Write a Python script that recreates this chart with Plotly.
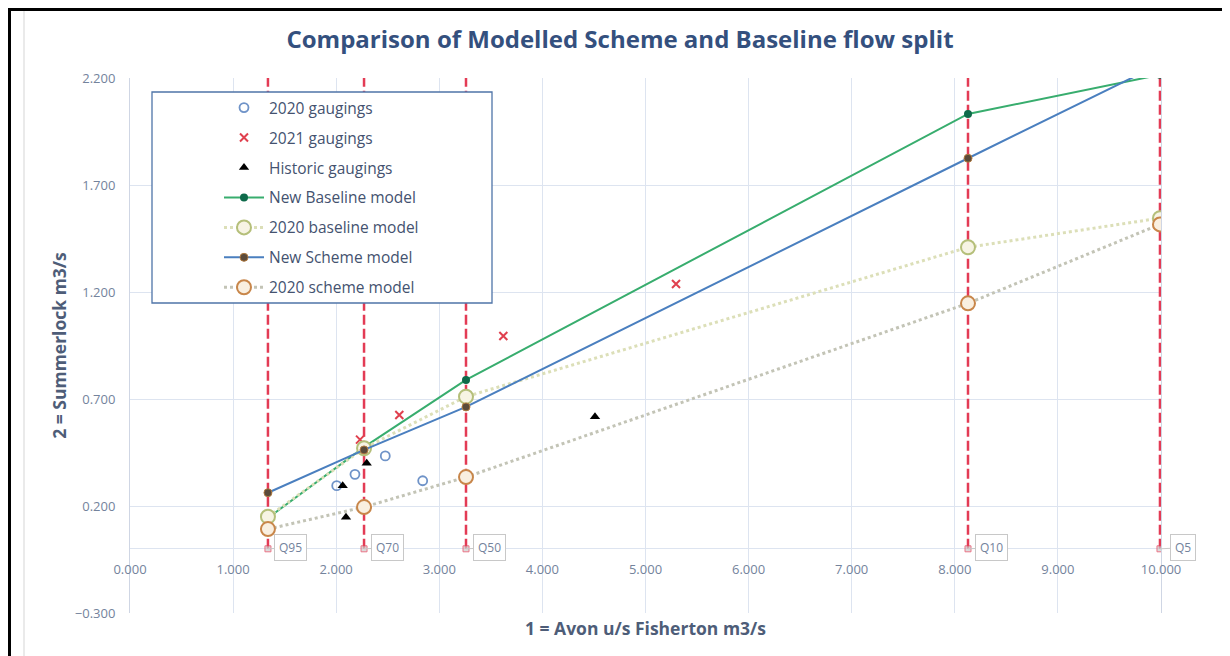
import plotly.graph_objects as go

# ---------------- data ----------------
q_labels = ["Q95", "Q70", "Q50", "Q10", "Q5"]
q_flows = [1.338, 2.27, 3.259, 8.128, 9.99]
q_line_top = 2.2

new_baseline = [0.144, 0.475, 0.789, 2.032, 2.215]
baseline_2020 = [0.15, 0.47, 0.711, 1.409, 1.545]
new_scheme = [0.262, 0.462, 0.663, 1.825, 2.265]
scheme_2020 = [0.092, 0.195, 0.335, 1.147, 1.516]

g2020_x = [2.005, 2.182, 2.476, 2.839]
g2020_y = [0.295, 0.348, 0.434, 0.318]

g2021_x = [2.231, 2.612, 3.621, 5.296]
g2021_y = [0.51, 0.625, 0.994, 1.237]

hist_x = [2.063, 2.095, 2.296, 4.51]
hist_y = [0.295, 0.147, 0.40, 0.617]

x_ticks = [0, 1, 2, 3, 4, 5, 6, 7, 8, 9, 10]
y_ticks = [-0.3, 0.2, 0.7, 1.2, 1.7, 2.2]

# ---------------- layout constants ----------------
OFF = 8                      # page body margin
W, H = 1230 - OFF, 656 - OFF
PL, PR, PT, PB = 130, 1161, 78, 613   # plot area in screenshot px
ML, MT = PL - OFF, PT - OFF
MR, MB = 1230 - PR, 656 - PB
PW, PH = PR - PL, PB - PT


def px_x(p):
    return (p - PL) / PW


def px_y(p):
    return (PB - p) / PH


FONT = "Open Sans"
TICK_COL = "#74839c"
TITLE_COL = "#34507e"
AXT_COL = "#4e5d78"
GRID = "#dde4f0"

fig = go.Figure()

# Q vertical lines
for lab, qx in zip(q_labels, q_flows):
    fig.add_trace(go.Scatter(
        x=[qx, qx], y=[0, q_line_top], mode="lines+markers",
        line=dict(color="#e33b55", width=2.5, dash="10px,4px"),
        marker=dict(size=[6, 0], color="#cccccc", symbol="square"),
        showlegend=False, hoverinfo="skip"))

fig.add_trace(go.Scatter(
    x=g2020_x, y=g2020_y, mode="markers", name="2020 gaugings",
    legendgroup="a",
    marker=dict(symbol="circle-open", size=9, color="#6f93c8", line=dict(width=1.8))))
fig.add_trace(go.Scatter(
    x=g2021_x, y=g2021_y, mode="markers", name="2021 gaugings",
    legendgroup="b",
    marker=dict(symbol="x-thin-open", size=8, color="#e0404e", line=dict(width=2, color="#e0404e"))))
fig.add_trace(go.Scatter(
    x=hist_x, y=hist_y, mode="markers", name="Historic gaugings",
    legendgroup="c",
    marker=dict(symbol="triangle-up", size=9, color="#000000")))
fig.add_trace(go.Scatter(
    x=q_flows, y=new_baseline, mode="lines+markers", name="New Baseline model",
    legendgroup="d",
    line=dict(color="#38ad6e", width=2),
    marker=dict(symbol="circle", size=8, color="#0e6a4a")))
fig.add_trace(go.Scatter(
    x=q_flows, y=baseline_2020, mode="lines+markers", name="2020 baseline model",
    legendgroup="e",
    line=dict(color="#dcdfb8", width=3, dash="dot"),
    marker=dict(symbol="circle", size=14, color="#f7f4e4", line=dict(width=2, color="#b5bf7a"))))
fig.add_trace(go.Scatter(
    x=q_flows, y=new_scheme, mode="lines+markers", name="New Scheme model",
    legendgroup="f",
    line=dict(color="#4a7fbf", width=2),
    marker=dict(symbol="circle", size=8, color="#5a4a3a", line=dict(width=1, color="#b07a40"))))
fig.add_trace(go.Scatter(
    x=q_flows, y=scheme_2020, mode="lines+markers", name="2020 scheme model",
    legendgroup="g",
    line=dict(color="#c3c4b6", width=3, dash="dot"),
    marker=dict(symbol="circle", size=14, color="#f9efe0", line=dict(width=2, color="#c8864a"))))

# Q labels (callouts)
for lab, qx in zip(q_labels, q_flows):
    fig.add_annotation(
        x=qx, y=0, xref="x", yref="y", text=lab, showarrow=True,
        arrowhead=0, arrowwidth=1, arrowcolor="#c8c8c8", ax=23, ay=-1,
        bordercolor="#c8c8c8", borderwidth=1, borderpad=4, bgcolor="white",
        font=dict(family=FONT, size=12, color=TICK_COL))

# legend box
fig.add_shape(type="rect", xref="paper", yref="paper",
              x0=px_x(152), x1=px_x(492), y0=px_y(303), y1=px_y(92),
              line=dict(color="#4f74a8", width=1.3), fillcolor="white", layer="above")

# outer frame
fig.add_shape(type="line", xref="paper", yref="paper",
              x0=px_x(24), x1=px_x(24), y0=px_y(10), y1=px_y(656),
              line=dict(color="#e3e3e3", width=1.5))
fig.add_shape(type="line", xref="paper", yref="paper",
              x0=px_x(OFF), x1=px_x(1230), y0=px_y(OFF + 1.5), y1=px_y(OFF + 1.5),
              line=dict(color="black", width=3))
fig.add_shape(type="line", xref="paper", yref="paper",
              x0=px_x(OFF + 1.5), x1=px_x(OFF + 1.5), y0=px_y(OFF), y1=px_y(656),
              line=dict(color="black", width=3))

fig.update_layout(
    width=W, height=H,
    margin=dict(l=ML, r=MR, t=MT, b=MB),
    paper_bgcolor="white", plot_bgcolor="white",
    font=dict(family=FONT, color=TICK_COL),
    title=dict(text="<b>Comparison of Modelled Scheme and Baseline flow split</b>",
               x=(620 - OFF) / W, xanchor="center", y=1 - (40 - OFF) / H,
               yanchor="middle", yref="container",
               font=dict(family=FONT, size=24, color=TITLE_COL)),
    showlegend=True,
    legend=dict(x=px_x(219), y=px_y(91), xanchor="left", yanchor="top",
                bgcolor="rgba(0,0,0,0)", borderwidth=0,
                traceorder="grouped", tracegroupgap=6.8,
                font=dict(family=FONT, size=15.5, color="#44526f"),
                itemwidth=40),
    xaxis=dict(range=[0, 10], tickvals=x_ticks, tickformat=".3f",
               showgrid=True, gridcolor=GRID, gridwidth=1,
               zeroline=False, showline=False,
               anchor="free", position=0.3 / 2.5,
               ticks="", ticklabelstandoff=11,
               tickfont=dict(family=FONT, size=13, color=TICK_COL),
               title=dict(text="<b>1 = Avon u/s Fisherton m3/s</b>", standoff=45,
                          font=dict(family=FONT, size=17.5, color=AXT_COL))),
    yaxis=dict(range=[-0.3, 2.2], tickvals=y_ticks, tickformat=".3f",
               showgrid=True, gridcolor=GRID, gridwidth=1,
               zeroline=True, zerolinecolor=GRID, zerolinewidth=1,
               showline=True, linecolor="#cfd6e4", mirror=True,
               ticks="", ticklabelstandoff=11,
               tickfont=dict(family=FONT, size=13, color=TICK_COL),
               title=dict(text="<b>2 = Summerlock m3/s</b>", standoff=3,
                          font=dict(family=FONT, size=17.5, color=AXT_COL))),
)

fig.write_html("out.html")
